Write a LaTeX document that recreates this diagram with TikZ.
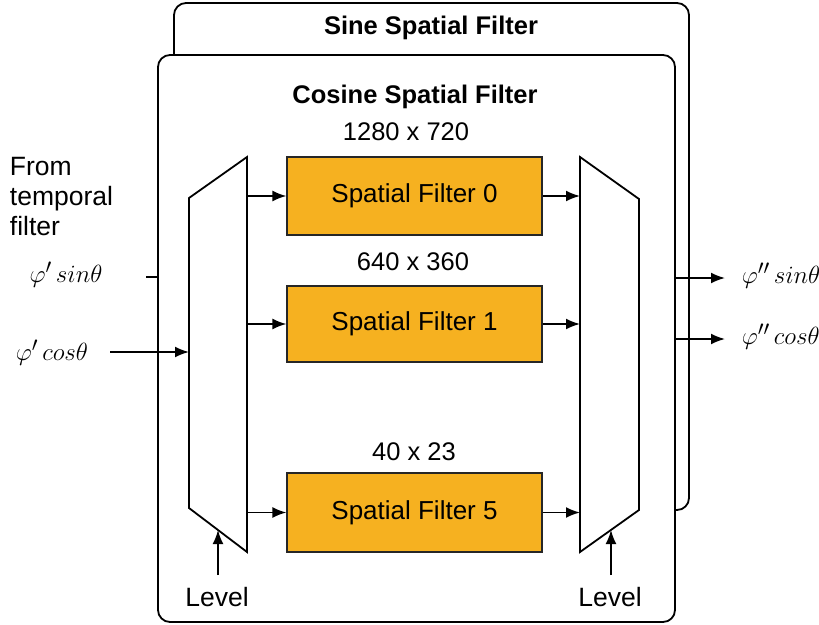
\documentclass[tikz,border=0pt]{standalone}
\usepackage{fontspec}
\setmainfont{Liberation Sans}
\usetikzlibrary{arrows.meta}
\definecolor{filtorange}{RGB}{246,177,32}
\begin{document}
\begin{tikzpicture}[x=1pt,y=-1pt, line width=1.8pt,
 arr/.style={-{Latex[length=14pt,width=11pt]}},
 filt/.style={draw=black!85, line width=1.2pt, fill=filtorange, minimum width=255pt, inner sep=0pt, font=\fontsize{26}{30}\selectfont},
 lbl/.style={font=\fontsize{25.5}{30}\selectfont, inner sep=0pt},
 ttl/.style={font=\fontsize{25.5}{30}\selectfont\bfseries, inner sep=0pt},
 mth/.style={font=\fontsize{28}{30}\selectfont, inner sep=0pt}]
\useasboundingbox (0,0) rectangle (819,624);
% frames
\draw[rounded corners=12pt] (174,3) rectangle (689,510);
\draw[rounded corners=12pt, fill=white] (158,55) rectangle (675,622);
\node[ttl] (sine) at (431,28) {Sine Spatial Filter};
\node[ttl] (cosine) at (415,97) {Cosine Spatial Filter};
% resolutions
\node[lbl] (r0) at (406,132) {1280 x 720};
\node[lbl] (r1) at (413,262) {640 x 360};
\node[lbl] (r5) at (414,452) {40 x 23};
% filters
\node[filt, minimum height=78pt] (f0) at (414.5,196) {Spatial Filter 0};
\node[filt, minimum height=76pt] (f1) at (414.5,324) {Spatial Filter 1};
\node[filt, minimum height=79pt] (f5) at (414.5,512.5) {Spatial Filter 5};
% muxes
\draw (189,198) -- (247,157) -- (247,552) -- (189,508) -- cycle;
\draw (580,157) -- (639,199) -- (639,510) -- (580,552) -- cycle;
\coordinate (lmL) at (189,0);
\coordinate (lmR) at (247,0);
\coordinate (rmL) at (580,0);
\coordinate (cosR) at (675,0);
\coordinate (cosL) at (158,0);
% mux to filters
\draw[arr] (f0.west -| lmR) -- (f0.west);
\draw[arr] (f1.west -| lmR) -- (f1.west);
\draw[arr] (f5.west -| lmR) -- (f5.west);
\draw[arr] (f0.east) -- (f0.east -| rmL);
\draw[arr] (f1.east) -- (f1.east -| rmL);
\draw[arr] (f5.east) -- (f5.east -| rmL);
% inputs
\node[lbl, font=\fontsize{26.5}{30}\selectfont, align=left, anchor=west] (from) at (9,197) {From\\temporal\\filter};
\node[mth] (insin) at (66,275) {$\varphi'\,sin\theta$};
\node[mth] (incos) at (52,353) {$\varphi'\,cos\theta$};
\coordinate (sinA) at (146,277);
\coordinate (cosA) at (110,352);
\draw (sinA) -- (sinA -| cosL);
\draw[arr] (cosA) -- (cosA -| lmL);
% outputs
\coordinate (outS) at (725,278);
\coordinate (outC) at (725,339);
\draw[arr] (outS -| cosR) -- (outS);
\draw[arr] (outC -| cosR) -- (outC);
\node[mth, anchor=west] (osin) at (741,276) {$\varphi''\,sin\theta$};
\node[mth, anchor=west] (ocos) at (741,337) {$\varphi''\,cos\theta$};
% levels
\node[lbl, font=\fontsize{26.5}{30}\selectfont] (lvlL) at (217,597) {Level};
\node[lbl, font=\fontsize{26.5}{30}\selectfont] (lvlR) at (610,597) {Level};
\coordinate (lvlLt) at (218,530);
\coordinate (lvlRt) at (611,530);
\draw[arr] (lvlLt |- 0,575) -- (lvlLt);
\draw[arr] (lvlRt |- 0,575) -- (lvlRt);
\end{tikzpicture}
\end{document}
